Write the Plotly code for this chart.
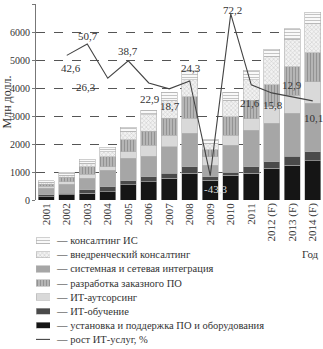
import plotly.graph_objects as go

years = ["2001", "2002", "2003", "2004", "2005", "2006", "2007", "2008", "2009",
         "2010", "2011", "2012 (F)", "2013 (F)", "2014 (F)"]

# stacked series, bottom to top (млн долл.)
ustanovka   = [120, 180, 240, 300, 540, 650, 770, 950, 710, 880, 950, 1130, 1250, 1400]
obuchenie   = [60, 60, 120, 180, 150, 180, 180, 240, 120, 120, 240, 240, 320, 330]
integracia  = [240, 320, 410, 590, 800, 740, 950, 1190, 420, 960, 1310, 1370, 1530, 1720]
autsorsing  = [80, 90, 150, 120, 240, 390, 420, 540, 300, 360, 400, 590, 650, 780]
razrabotka  = [60, 160, 270, 360, 420, 500, 600, 770, 240, 660, 670, 780, 1010, 1030]
vnedrenie   = [60, 80, 120, 180, 290, 580, 650, 600, 230, 590, 720, 1010, 980, 1030]
konsalting  = [70, 100, 150, 150, 160, 170, 280, 350, 150, 280, 350, 270, 370, 420]

# growth of IT services, % (2002..2014)
growth_years = years[1:]
growth = [42.6, 50.7, 26.3, 38.7, 22.9, 18.7, 24.3, -43.3, 72.2, 21.6, 15.8, 12.9, 10.1]

y_ticks = [0, 1000, 2000, 3000, 4000, 5000, 6000, 7000]

# label offsets (pixels) for growth labels
lab_dx = [4, 1, -22, 0, 1, 1, 1, 5, 2, -1, 1, 0, 1]
lab_dy = [-13, 8, -9, 10, -16, -17, 13, -13, 4, -18, -12, 12, -17]

FONT = "Liberation Serif"
TXT = "#333333"

series = [
    ("установка и поддержка ПО и оборудования", ustanovka, dict(color="#151515")),
    ("ИТ-обучение", obuchenie, dict(color="#4a4a4a")),
    ("системная и сетевая интеграция", integracia, dict(color="#a6a6a6")),
    ("ИТ-аутсорсинг", autsorsing, dict(color="#d9d9d9")),
    ("разработка заказного ПО", razrabotka,
     dict(color="#b3b3b3", pattern=dict(shape="|", size=3, solidity=0.4, fgcolor="#6e6e6e", bgcolor="#b8b8b8"))),
    ("внедренческий консалтинг", vnedrenie,
     dict(color="#eeeeee", pattern=dict(shape="x", size=3, solidity=0.3, fgcolor="#9a9a9a", bgcolor="#f2f2f2"))),
    ("консалтинг ИС", konsalting,
     dict(color="#ffffff", pattern=dict(shape="-", size=3, solidity=0.4, fgcolor="#8a8a8a", bgcolor="#ffffff"))),
]

fig = go.Figure()
for name, vals, mk in series:
    m = dict(mk)
    m["line"] = dict(color="#b0b0b0", width=0.6)
    fig.add_trace(go.Bar(x=years, y=vals, name=name, marker=m, showlegend=False,
                         xaxis="x", yaxis="y"))

fig.add_trace(go.Scatter(x=growth_years, y=growth, mode="lines",
                         line=dict(color="#444444", width=1.1),
                         showlegend=False, xaxis="x", yaxis="y2"))

# growth labels
for i, (yr, g) in enumerate(zip(growth_years, growth)):
    txt = f"{g:.1f}".replace(".", ",")
    col = "#dddddd" if g < -40 else TXT
    fig.add_annotation(x=years.index(yr), y=g, xref="x", yref="y2", text=txt, showarrow=False,
                       xanchor="center", yanchor="middle",
                       xshift=lab_dx[i], yshift=lab_dy[i],
                       font=dict(family=FONT, size=11, color=col))

# custom legend (swatches in a small hidden subplot)
legend_order = [6, 5, 2, 4, 3, 1, 0]
for row, idx in enumerate(legend_order):
    name, vals, mk = series[idx]
    m = dict(mk)
    m["line"] = dict(color="#b0b0b0", width=0.6)
    fig.add_trace(go.Bar(x=[1], y=[row], base=0, orientation="h", width=0.45,
                         marker=m, showlegend=False, xaxis="x3", yaxis="y3",
                         hoverinfo="skip"))
    fig.add_annotation(x=0.0627, y=row, xref="paper", yref="y3", xanchor="left",
                       yanchor="middle", text="— " + name, showarrow=False,
                       font=dict(family=FONT, size=10.5, color=TXT))
fig.add_trace(go.Scatter(x=[0, 1], y=[7, 7], mode="lines", line=dict(color="#444444", width=1.1),
                         showlegend=False, xaxis="x3", yaxis="y3", hoverinfo="skip"))
fig.add_annotation(x=0.0627, y=7, xref="paper", yref="y3", xanchor="left", yanchor="middle",
                   text="— рост ИТ-услуг, %", showarrow=False,
                   font=dict(family=FONT, size=10.5, color=TXT))

fig.add_annotation(x=0.955, y=0.275, xref="paper", yref="paper", text="Год",
                   xanchor="center", yanchor="middle",
                   showarrow=False, font=dict(family=FONT, size=11, color=TXT))

dom_bottom = 196 / 345
fig.update_layout(
    width=323, height=349,
    margin=dict(l=36, r=0, t=4, b=0),
    paper_bgcolor="white", plot_bgcolor="white",
    barmode="stack", bargap=0.2,
    font=dict(family=FONT, size=11, color=TXT),
    xaxis=dict(domain=[0, 1], anchor="y", type="category", tickangle=-90, showline=False,
               showgrid=False, ticks="", tickfont=dict(family=FONT, size=11, color=TXT),
               range=[-0.5, 13.5], automargin=False),
    yaxis=dict(domain=[1 - dom_bottom, 1], anchor="x", range=[0, 7000], tickvals=y_ticks,
               showline=True, linecolor="#777777", linewidth=1,
               ticks="outside", ticklen=3, tickcolor="#777777",
               showgrid=True, gridcolor="#555555", griddash="dash", gridwidth=1,
               zeroline=False, tickfont=dict(family=FONT, size=10, color=TXT),
               title=dict(text="\u00a0" * 10 + "Млн долл.", standoff=0,
                          font=dict(family=FONT, size=12, color=TXT)),
               automargin=False),
    yaxis2=dict(overlaying="y", range=[-60.7, 79.3], visible=False, anchor="x"),
    xaxis3=dict(domain=[0, 14 / 287], range=[0, 1], visible=False, anchor="y3"),
    yaxis3=dict(domain=[0, 1 - dom_bottom], range=[7.68, -2.887], visible=False, anchor="x3"),
)

fig.write_html("out.html")
